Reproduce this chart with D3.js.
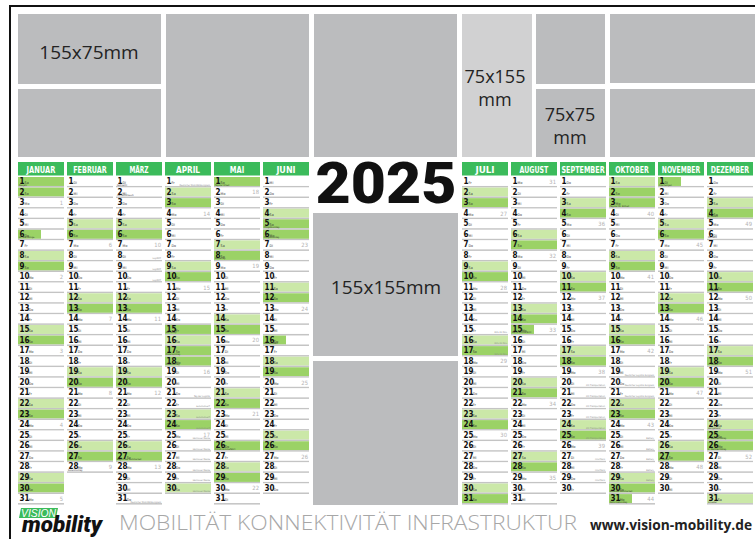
<!DOCTYPE html>
<meta charset="utf-8">
<style>
  body { margin: 0; background: #fff; }
  svg { display: block; }
</style>
<svg width="755" height="539"></svg>
<script src="https://d3js.org/d3.v7.min.js"></script>
<script>

// --- data read from the poster ---
var months = ["JANUAR", "FEBRUAR", "MÄRZ", "APRIL", "MAI", "JUNI",
              "JULI", "AUGUST", "SEPTEMBER", "OKTOBER", "NOVEMBER", "DEZEMBER"];
var monthDays = [31, 28, 31, 30, 31, 30, 31, 31, 30, 31, 30, 31];
// weekday of the 1st, 0 = Mo
var firstWeekday = [5, 1, 1, 4, 6, 2, 4, 0, 3, 5, 1, 3];
var weekdayNames = ["Mo", "Di", "Mi", "Do", "Fr", "Sa", "So"];

// light green rows (saturdays)
var lightDays = [
  [8, 15, 22, 29], [5, 12, 19, 26], [5, 12, 19, 26], [2, 9, 16, 23, 30],
  [7, 14, 21, 28], [4, 11, 18, 25], [2, 9, 16, 23, 30], [6, 13, 20, 27],
  [3, 10, 17, 24], [1, 8, 15, 22, 29], [5, 12, 19, 26], [3, 10, 17, 24, 31]
];
// dark green rows (sundays, holidays)
var darkDays = [
  [1, 2, 9, 16, 23, 30], [6, 13, 20, 27], [6, 13, 20, 27], [3, 10, 15, 17, 18, 24],
  [1, 8, 15, 22, 26, 29], [5, 6, 12, 19, 26], [3, 10, 17, 24, 31], [7, 14, 21, 28],
  [4, 11, 18, 25], [2, 3, 9, 16, 23, 30], [6, 13, 20, 27], [4, 11, 18, 25, 26]
];
// regional holidays, half-width bar
var halfDays = [[6], [], [], [], [], [16], [], [15], [], [31], [1], []];

var notes = [
  [0, 1, "Neujahr"], [0, 6, "Hl. Drei Könige"], [1, 28, "Rosenmontag"],
  [2, 1, "Fastnacht"], [2, 2, "Aschermittwoch"], [2, 27, "Beginn der Sommerzeit"],
  [3, 15, "Karfreitag"], [3, 17, "Ostersonntag"], [3, 18, "Ostermontag"],
  [4, 1, "Tag der Arbeit"], [4, 8, "Muttertag"], [4, 26, "Christi Himmelfahrt"],
  [5, 5, "Pfingstsonntag"], [5, 6, "Pfingstmontag"], [5, 16, "Fronleichnam"],
  [7, 15, "Mariä Himmelfahrt"], [9, 3, "Tag der Dt. Einheit"],
  [9, 30, "Ende der Sommerzeit"], [9, 31, "Reformationstag"],
  [10, 1, "Allerheiligen"], [10, 27, "1. Advent"], [11, 4, "2. Advent"],
  [11, 6, "Nikolaus"], [11, 11, "3. Advent"], [11, 18, "4. Advent"],
  [11, 24, "Heiligabend"], [11, 25, "1. Weihnachtstag"],
  [11, 26, "2. Weihnachtstag"], [11, 31, "Silvester"]
];
var events = [
  [2, 8, "LogiMAT"], [2, 9, "LogiMAT"], [2, 10, "LogiMAT"],
  [3, 1, "Deutscher Mobilitätskongress"], [3, 21, "Tag der Logistik"],
  [3, 22, "automotiveIT"], [3, 23, "automotiveIT"], [3, 24, "automotiveIT"],
  [3, 25, "Hannover Messe"], [3, 26, "Hannover Messe"], [3, 27, "Hannover Messe"],
  [3, 28, "Hannover Messe"], [3, 29, "Hannover Messe"], [3, 30, "Hannover Messe"],
  [2, 31, "Deutscher Mobilitätskongress"],
  [6, 15, "EVS 35 Oslo"], [6, 16, "EVS 35 Oslo"], [6, 17, "EVS 35 Oslo"],
  [8, 20, "IAA Transportation"], [8, 21, "IAA Transportation"], [8, 22, "IAA Transportation"],
  [8, 23, "IAA Transportation"], [8, 24, "IAA Transportation"], [8, 25, "IAA Transportation"],
  [8, 27, "InnoTrans"], [8, 28, "InnoTrans"], [8, 29, "InnoTrans"],
  [9, 19, "Deutscher Logistik-Kongress"], [9, 20, "Deutscher Logistik-Kongress"],
  [9, 21, "Deutscher Logistik-Kongress"], [9, 25, "Battery"], [9, 26, "Battery"],
  [9, 27, "Battery"], [9, 28, "Battery"], [9, 29, "Battery"]
];

var adLabels = [["155x75mm"], ["75x155", "mm"], ["75x75", "mm"], ["155x155mm"]];
var bigYear = "2025";
var slogan = "MOBILITÄT  KONNEKTIVITÄT  INFRASTRUKTUR";
var website = "www.vision-mobility.de";

// --- colours ---
var green = "#3bbb5b", lightGreen = "#cbe8a8", darkGreen = "#9bd266",
    adGray = "#bbbcbe", adLight = "#d1d1d2", lineGray = "#c4c4c4";

var svg = d3.select("svg");
var narrow = "'Liberation Sans Narrow','DejaVu Sans Condensed','Roboto Condensed',sans-serif";

// frame
svg.append("rect").attr("x", 10).attr("y", 6).attr("width", 760).attr("height", 560)
  .attr("fill", "none").attr("stroke", "#111").attr("stroke-width", 2);

// ad blocks
var ads = [
  [18, 14, 143, 70, adGray], [18, 89, 143, 68, adGray],
  [166, 14, 143, 143, adGray], [314, 14, 143, 143, adGray],
  [462, 14, 70, 143, adLight],
  [536, 14, 69, 70, adGray], [536, 89, 69, 68, adGray],
  [610, 14, 150, 69, adGray], [610, 89, 150, 68, adGray],
  [313, 213, 145, 143, adGray], [313, 361, 145, 144, adGray]
];
svg.append("g").selectAll("rect").data(ads).join("rect")
  .attr("x", function(d){ return d[0]; }).attr("y", function(d){ return d[1]; })
  .attr("width", function(d){ return d[2]; }).attr("height", function(d){ return d[3]; })
  .attr("fill", function(d){ return d[4]; });

var labelPos = [[89, 59], [495, 83], [570, 121], [386, 294]];
var labels = svg.append("g").selectAll("text").data(adLabels).join("text")
  .attr("x", function(d, i){ return labelPos[i][0]; })
  .attr("y", function(d, i){ return labelPos[i][1]; })
  .attr("text-anchor", "middle")
  .attr("font-family", "'Open Sans',sans-serif")
  .attr("font-size", function(d){ return d.length > 1 ? 18 : 19; })
  .attr("fill", "#232323");
labels.selectAll("tspan").data(function(d){ return d; }).join("tspan")
  .attr("x", function(){ return this.parentNode.getAttribute("x"); })
  .attr("dy", function(d, i){ return i ? 23 : 0; })
  .text(function(d){ return d; });

// big year
svg.append("text").attr("x", 386).attr("y", 203).attr("text-anchor", "middle")
  .attr("font-family", "Roboto,'Liberation Sans',sans-serif").attr("font-weight", 900)
  .attr("font-size", 57).attr("textLength", 141).attr("lengthAdjust", "spacingAndGlyphs")
  .attr("fill", "#111").text(bigYear);

// scales
var colLeft = d3.scaleBand().domain(d3.range(0, 6)).range([18, 18 + 6 * 49 - 3]).paddingInner(3 / 49);
var colRight = d3.scaleBand().domain(d3.range(6, 12)).range([462, 462 + 6 * 49 - 3]).paddingInner(3 / 49);
function colX(m){ return m < 6 ? colLeft(m) : colRight(m); }
var bw = colLeft.bandwidth();
var rowY = d3.scaleBand().domain(d3.range(1, 32)).range([177, 177 + 31 * 10.57]);
var step = rowY.step();

var week = 52;
months.forEach(function(name, m){
  var g = svg.append("g").attr("transform", "translate(" + colX(m) + ",0)");
  g.append("rect").attr("x", 0).attr("y", 162).attr("width", bw).attr("height", 13.5).attr("fill", green);
  g.append("text").attr("x", bw / 2).attr("y", 172.6).attr("text-anchor", "middle")
    .attr("font-family", narrow).attr("font-weight", "bold").attr("font-size", 9)
    .attr("textLength", Math.min(name.length * 4.8, bw - 2)).attr("lengthAdjust", "spacingAndGlyphs")
    .attr("fill", "#fff").text(name);

  var days = d3.range(1, monthDays[m] + 1);
  var rows = g.selectAll("g.day").data(days).join("g").attr("class", "day")
    .attr("transform", function(d){ return "translate(0," + rowY(d) + ")"; });

  rows.append("rect").attr("x", 0).attr("y", 0).attr("height", step - 1.6)
    .attr("width", function(d){ return halfDays[m].indexOf(d) >= 0 ? bw / 2 : bw; })
    .attr("fill", function(d){
      if (darkDays[m].indexOf(d) >= 0 || halfDays[m].indexOf(d) >= 0) return darkGreen;
      if (lightDays[m].indexOf(d) >= 0) return lightGreen;
      return "#fff";
    });
  rows.append("rect").attr("x", 0).attr("y", step - 1.6).attr("width", bw).attr("height", 1.5)
    .attr("fill", lineGray);

  rows.append("text").attr("x", 1.5).attr("y", 7)
    .attr("font-family", narrow).attr("font-weight", "bold").attr("font-size", 8)
    .attr("fill", "#111").text(function(d){ return d; });
  rows.append("text").attr("x", function(d){ return d < 10 ? 6.6 : 10.8; }).attr("y", 7)
    .attr("font-family", narrow).attr("font-size", 3.6).attr("fill", "#333")
    .text(function(d){ return weekdayNames[(firstWeekday[m] + d - 1) % 7]; });

  // week numbers on mondays (next day when monday is a holiday)
  days.forEach(function(d){
    if ((firstWeekday[m] + d - 1) % 7 !== 0) return;
    week = week === 52 ? 1 : week + 1;
    var at = darkDays[m].indexOf(d) >= 0 ? d + 1 : d;
    g.append("text").attr("x", bw - 1).attr("y", rowY(at) + 6.8).attr("text-anchor", "end")
      .attr("font-family", narrow).attr("font-size", 5.8).attr("fill", "#b4b4b4").text(week);
  });
});

// holiday notes and event notes
svg.append("g").selectAll("text").data(notes).join("text")
  .attr("x", function(d){ return colX(d[0]) + 1; })
  .attr("y", function(d){ return rowY(d[1]) + 8.5; })
  .attr("font-family", narrow).attr("font-size", 2.3).attr("fill", "#333")
  .text(function(d){ return d[2]; });
svg.append("g").selectAll("text").data(events).join("text")
  .attr("x", function(d){ return colX(d[0]) + bw - 1; })
  .attr("y", function(d){ return rowY(d[1]) + 8.5; })
  .attr("text-anchor", "end")
  .attr("font-family", narrow).attr("font-size", 2.3).attr("fill", "#8a8a8a")
  .text(function(d){ return d[2]; });

// footer logo
var logo = svg.append("g");
logo.append("path").attr("d", "M21,508 L58,508 L56,518 L19,518 Z").attr("fill", green);
logo.append("text").attr("x", 21).attr("y", 516.8).attr("font-family", "'Liberation Sans',sans-serif")
  .attr("font-style", "italic").attr("font-size", 10).attr("textLength", 35)
  .attr("lengthAdjust", "spacingAndGlyphs").attr("fill", "#fff").text("VISION");
logo.append("text").attr("x", 22).attr("y", 532).attr("font-family", "Roboto,'Liberation Sans',sans-serif")
  .attr("font-style", "italic").attr("font-weight", 900).attr("font-size", 22)
  .attr("textLength", 80).attr("lengthAdjust", "spacingAndGlyphs").attr("fill", "#111").text("mobility");

svg.append("text").attr("x", 119).attr("y", 530).attr("font-family", "'Open Sans','Liberation Sans',sans-serif")
  .attr("font-weight", 300).attr("font-size", 21).attr("textLength", 458).attr("lengthAdjust", "spacingAndGlyphs")
  .attr("fill", "#a7a7a7").text(slogan);
svg.append("text").attr("x", 590).attr("y", 530).attr("font-family", "'Open Sans','Liberation Sans',sans-serif")
  .attr("font-weight", "bold").attr("font-size", 14.5).attr("textLength", 162)
  .attr("lengthAdjust", "spacingAndGlyphs").attr("fill", "#222").text(website);

</script>
